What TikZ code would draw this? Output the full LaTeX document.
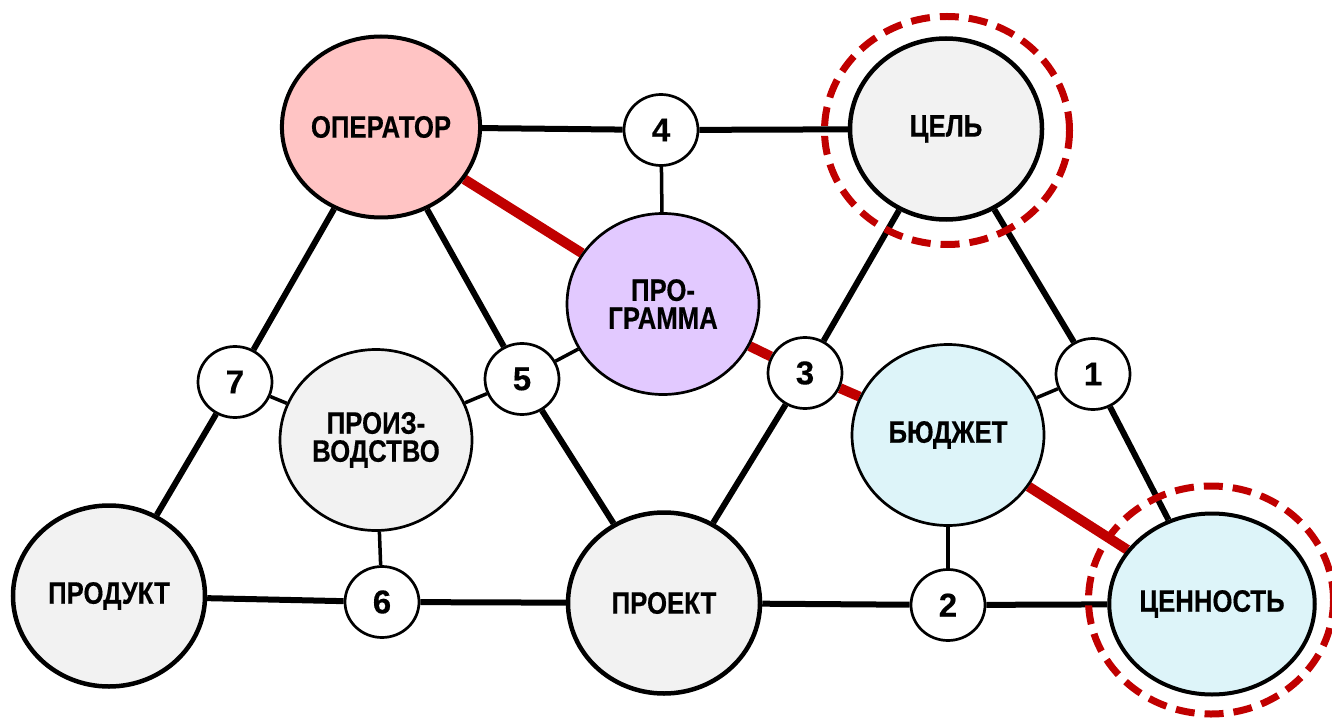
\documentclass[tikz,border=0pt]{standalone}
\usepackage{fontspec}
\setmainfont{Liberation Sans}
\newfontfamily\labfont{Liberation Sans}[FakeStretch=0.83,FakeBold=0.4]
\newfontfamily\numfont{Liberation Sans}[FakeBold=0.3]
\usetikzlibrary{shapes.geometric,backgrounds}
\definecolor{pinkc}{HTML}{FFC4C4}
\definecolor{lavc}{HTML}{E2C9FF}
\definecolor{grayc}{HTML}{F2F2F2}
\definecolor{cyanc}{HTML}{DDF4F9}
\definecolor{redc}{HTML}{C00000}
\begin{document}
\begin{tikzpicture}[x=1pt,y=-1pt,
  big/.style={ellipse, draw, line width=4pt, minimum width=192pt, minimum height=181pt, inner sep=0pt, font=\labfont\bfseries\fontsize{31}{28}\selectfont, align=center},
  bigthin/.style={big, line width=2.7pt},
  num/.style={ellipse, draw, fill=white, line width=2.7pt, minimum width=74pt, minimum height=71pt, inner sep=0pt, font=\numfont\bfseries\fontsize{33}{33}\selectfont},
  blk/.style={line width=6pt},
  thinblk/.style={line width=3.5pt},
  redline/.style={line width=10pt, draw=redc},
  ring/.style={ellipse, draw=redc, line width=7pt, dash pattern=on 19pt off 10pt, minimum width=245pt, minimum height=228pt, inner sep=0pt}
]
\useasboundingbox (0,0) rectangle (1332,719);

\node[big, fill=pinkc] (op) at (381,127) {ОПЕРАТОР};
\node[big, fill=grayc, line width=4.5pt] (cel) at (946,129) {ЦЕЛЬ};
\node[bigthin, fill=lavc] (prog) at (663,304) {ПРО-\\ГРАММА};
\node[bigthin, fill=grayc] (proiz) at (376,440) {ПРОИЗ-\\ВОДСТВО};
\node[bigthin, fill=cyanc] (bud) at (948,435) {БЮДЖЕТ};
\node[big, fill=grayc, line width=4.5pt] (prod) at (109,596) {ПРОДУКТ};
\node[big, fill=grayc, line width=4.5pt] (proj) at (664,603) {ПРОЕКТ};
\node[big, fill=cyanc] (cen) at (1212,604) {ЦЕННОСТЬ};

\node[num] (n4) at (661,130) {4};
\node[num] (n7) at (235,382) {7};
\node[num] (n5) at (522,379) {5};
\node[num] (n3) at (805,373) {3};
\node[num] (n1) at (1093,374) {1};
\node[num] (n6) at (382,602) {6};
\node[num] (n2) at (948,605) {2};

\begin{pgfonlayer}{background}
  \draw[blk] (op) -- (n4);
  \draw[blk] (n4) -- (cel);
  \draw[thinblk] (n4) -- (prog);
  \draw[blk] (op) -- (n7);
  \draw[blk] (n7) -- (prod);
  \draw[blk] (op) -- (n5);
  \draw[blk] (n5) -- (proj);
  \draw[blk] (cel) -- (n3);
  \draw[blk] (n3) -- (proj);
  \draw[blk] (cel) -- (n1);
  \draw[blk] (n1) -- (cen);
  \draw[thinblk] (n7) -- (proiz);
  \draw[thinblk] (proiz) -- (n5);
  \draw[thinblk] (n5) -- (prog);
  \draw[blk] (prod) -- (n6);
  \draw[blk] (n6) -- (proj);
  \draw[thinblk] (n6) -- (proiz);
  \draw[blk] (proj) -- (n2);
  \draw[blk] (n2) -- (cen);
  \draw[thinblk] (n2) -- (bud);
  \draw[thinblk] (n1) -- (bud);
  \draw[redline] (op) -- (prog);
  \draw[redline] (prog) -- (n3);
  \draw[redline] (n3) -- (bud);
  \draw[redline] (bud) -- (cen);
\end{pgfonlayer}

\node[ring] (celring) at (947,130.5) {};
\node[ring] (cenring) at (1211,600) {};
\end{tikzpicture}
\end{document}
